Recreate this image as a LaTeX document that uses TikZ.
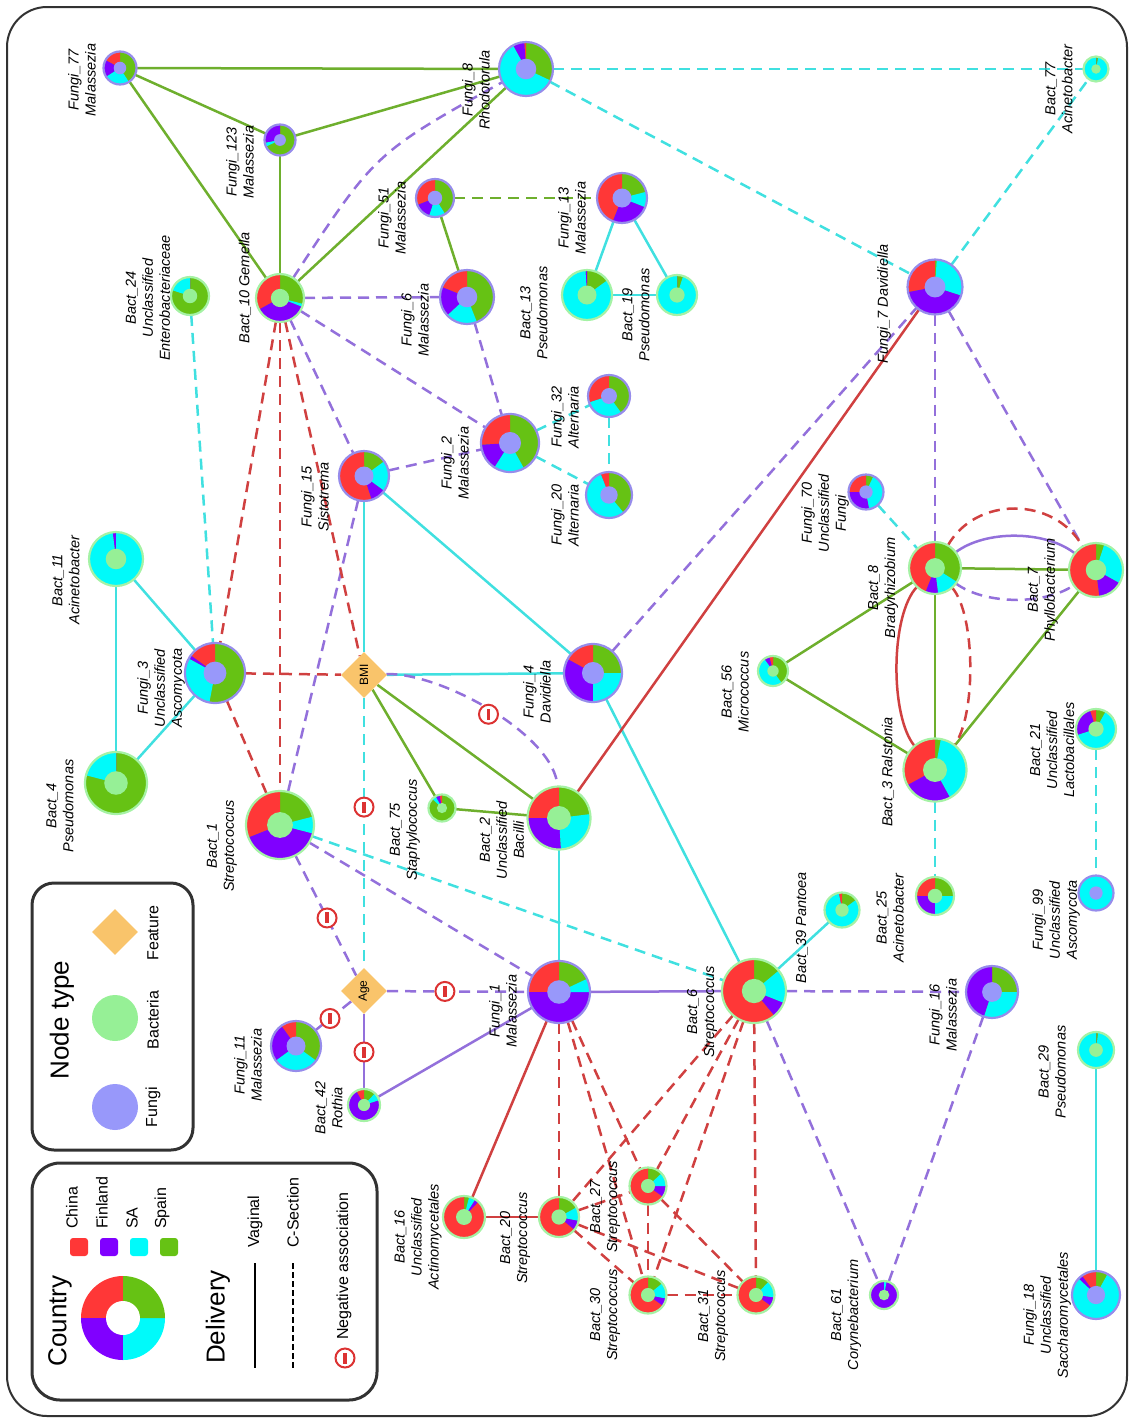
\documentclass[tikz,border=0pt]{standalone}
\usepackage{fontspec}
\setmainfont{Liberation Sans}
\usetikzlibrary{shapes.geometric}
\definecolor{pRed}{RGB}{255,55,55}
\definecolor{pPur}{RGB}{128,0,255}
\definecolor{pCya}{RGB}{0,250,250}
\definecolor{pGre}{RGB}{102,194,20}
\definecolor{fuIn}{RGB}{152,152,250}
\definecolor{fuOut}{RGB}{150,140,235}
\definecolor{baIn}{RGB}{150,240,150}
\definecolor{baOut}{RGB}{165,242,165}
\definecolor{eGre}{RGB}{110,175,45}
\definecolor{eCya}{RGB}{64,224,224}
\definecolor{eRed}{RGB}{208,64,64}
\definecolor{ePur}{RGB}{147,112,219}
\definecolor{feat}{RGB}{249,196,107}
\definecolor{negR}{RGB}{220,50,50}
\definecolor{frm}{RGB}{50,50,50}
\pgfdeclarelayer{edges}
\pgfsetlayers{edges,main}
% #1 name #2 x #3 y #4 radius #5 type (fu/ba) #6 red #7 purple #8 cyan
\newcommand\dn[8]{%
 \node[circle,minimum size=2*#4pt,inner sep=0pt,outer sep=0pt] (#1) at (#2,#3) {};
 \pgfmathsetmacro\aA{90+360*#6}%
 \pgfmathsetmacro\aB{\aA+360*#7}%
 \pgfmathsetmacro\aC{\aB+360*#8}%
 \fill[pGre] (#1.center) circle[radius=#4pt];
 \fill[pRed] (#1.center) -- ++(90:#4pt) arc[start angle=90,end angle=\aA,radius=#4pt] -- cycle;
 \fill[pPur] (#1.center) -- ++(\aA:#4pt) arc[start angle=\aA,end angle=\aB,radius=#4pt] -- cycle;
 \fill[pCya] (#1.center) -- ++(\aB:#4pt) arc[start angle=\aB,end angle=\aC,radius=#4pt] -- cycle;
 \fill[#5In] (#1.center) circle[radius=0.38*#4pt];
 \draw[#5Out,line width=2.2pt] (#1.center) circle[radius=#4pt];
}
\tikzset{
 lbl/.style={rotate=90,align=center,inner sep=0pt,font=\fontsize{14.5}{17}\selectfont\itshape},
 ed/.style={line width=2.5pt},
 dsh/.style={dash pattern=on 11pt off 7pt},
 gS/.style={ed,draw=eGre}, gD/.style={gS,dsh},
 cS/.style={ed,draw=eCya}, cD/.style={cS,dsh},
 rS/.style={ed,draw=eRed}, rD/.style={rS,dsh},
 pS/.style={ed,draw=ePur}, pD/.style={pS,dsh},
 featnode/.style={diamond,fill=feat,minimum size=46pt,inner sep=0pt,rotate=90,font=\fontsize{12}{14}\selectfont},
 negsym/.style={circle,draw=negR,fill=white,line width=2pt,minimum size=19pt,inner sep=0pt,
   path picture={\fill[negR] ([xshift=-1.7pt,yshift=-5.5pt]path picture bounding box.center) rectangle ([xshift=1.7pt,yshift=5.5pt]path picture bounding box.center);}},
 lgtitle/.style={rotate=90,inner sep=0pt,font=\fontsize{26}{30}\selectfont},
 lgtext/.style={rotate=90,inner sep=0pt,font=\fontsize{16}{19}\selectfont},
}
\begin{document}
\begin{tikzpicture}[x=1pt,y=-1pt]
\useasboundingbox (0,0) rectangle (1129,1419);
\draw[frm,line width=2pt,rounded corners=40pt] (7,7) rectangle (1127,1416);

% ---------------- nodes (donuts)
\dn{f77}{120}{68}{16.5}{fu}{.17}{.17}{.25}
\dn{f123}{280}{140}{15.5}{fu}{0}{.28}{.04}
\dn{f8}{526}{69}{27}{fu}{.01}{.07}{.60}
\dn{b77}{1096}{69}{12.5}{ba}{0}{0}{.97}
\dn{f51}{435}{198}{19}{fu}{.31}{.14}{.14}
\dn{f13}{622}{198}{25}{fu}{.44}{.25}{.10}
\dn{b13}{587}{295}{25}{ba}{0}{.01}{.84}
\dn{b19}{677}{295}{20}{ba}{0}{0}{.95}
\dn{f6}{467}{297}{27}{fu}{.19}{.18}{.19}
\dn{b24}{190}{296}{19}{ba}{0}{0}{.20}
\dn{b10}{280}{298}{24}{ba}{.33}{.36}{.02}
\dn{f7}{935}{287}{27.5}{fu}{.28}{.42}{.29}
\dn{f2}{510}{443}{29}{fu}{.26}{.15}{.17}
\dn{f32}{609}{396}{21}{fu}{.30}{0}{.30}
\dn{f20}{609}{495}{23}{fu}{.06}{0}{.55}
\dn{f15}{364}{476}{25}{fu}{.55}{.10}{.20}
\dn{b11}{116}{559}{27}{ba}{0}{.02}{.98}
\dn{f70}{866}{492}{17.5}{fu}{.25}{.28}{.40}
\dn{b8}{935}{568}{26}{ba}{.44}{.08}{.14}
\dn{b7}{1096}{570}{27}{ba}{.52}{.15}{.28}
\dn{f3}{215}{673}{30}{fu}{.15}{.02}{.30}
\dn{f4}{593}{673}{29}{fu}{.17}{.33}{.25}
\dn{b56}{773}{671}{15}{ba}{.04}{.06}{.50}
\dn{b21}{1096}{729}{20}{ba}{.05}{.25}{.62}
\dn{b4}{116}{783}{31}{ba}{0}{0}{.21}
\dn{b1}{280}{825}{34}{ba}{.31}{.40}{.08}
\dn{b75}{442}{808}{13.5}{ba}{.03}{.05}{.05}
\dn{b2}{559}{818}{31.5}{ba}{.25}{.26}{.26}
\dn{b3}{935}{770}{31.5}{ba}{.33}{.25}{.39}
\dn{b25}{935}{896}{19}{ba}{.25}{.25}{.25}
\dn{b39}{842}{910}{17.5}{ba}{.03}{0}{.82}
\dn{f99}{1096}{893}{17.5}{fu}{0}{0}{1}
\dn{f11}{296}{1046}{25}{fu}{.10}{.25}{.30}
\dn{f1}{559}{992}{31}{fu}{.25}{.50}{.07}
\dn{b6}{754}{991}{32}{ba}{.61}{.08}{.17}
\dn{f16}{992}{992}{26}{fu}{0}{.45}{.30}
\dn{b42}{364}{1105}{16}{ba}{.08}{.72}{.08}
\dn{b29}{1096}{1050}{18}{ba}{0}{0}{.98}
\dn{b16}{464}{1217}{21}{ba}{.88}{.03}{.05}
\dn{b20}{559}{1217}{20}{ba}{.64}{.08}{.11}
\dn{b27}{648}{1186}{18.5}{ba}{.65}{.10}{.12}
\dn{b30}{648}{1295}{18.5}{ba}{.65}{.07}{.14}
\dn{b31}{756}{1295}{18.5}{ba}{.65}{.08}{.15}
\dn{b61}{884}{1295}{14}{ba}{0}{.97}{.03}
\dn{f18}{1096}{1295}{24}{fu}{.10}{.03}{.79}

\node[featnode] (bmi) at (364,675) {BMI};
\node[featnode] (age) at (364,991) {Age};

% ---------------- labels
\node[lbl] (lf77) at (82,80) {Fungi\_77\\Malassezia};
\node[lbl] (lf123) at (240,162) {Fungi\_123\\Malassezia};
\node[lbl] (lf8) at (476,90) {Fungi\_8\\Rhodotorula};
\node[lbl] (lb77) at (1059,89) {Bact\_77\\Acinetobacter};
\node[lbl] (lf51) at (392,218) {Fungi\_51\\Malassezia};
\node[lbl] (lf13) at (572,218) {Fungi\_13\\Malassezia};
\node[lbl] (lf6) at (415,320) {Fungi\_6\\Malassezia};
\node[lbl] (lb13) at (534,313) {Bact\_13\\Pseudomonas};
\node[lbl] (lb19) at (636,315) {Bact\_19\\Pseudomonas};
\node[lbl] (lb24) at (148,298) {Bact\_24\\Unclassified\\Enterobacteriaceae};
\node[lbl] (lb10) at (245,288) {Bact\_10 Gemella};
\node[lbl] (lf7) at (884,304) {Fungi\_7 Davidiella};
\node[lbl] (lf2) at (455,463) {Fungi\_2\\Malassezia};
\node[lbl] (lf32) at (565,417) {Fungi\_32\\Alternaria};
\node[lbl] (lf20) at (565,515) {Fungi\_20\\Alternaria};
\node[lbl] (lf15) at (315,497) {Fungi\_15\\Sistotrema};
\node[lbl] (lb11) at (66,580) {Bact\_11\\Acinetobacter};
\node[lbl] (lf70) at (825,513) {Fungi\_70\\Unclassified\\Fungi};
\node[lbl] (lb8) at (883,588) {Bact\_8\\Bradyrhizobium};
\node[lbl] (lb7) at (1043,590) {Bact\_7\\Phyllobacterium};
\node[lbl] (lf3) at (161,688) {Fungi\_3\\Unclassified\\Ascomycota};
\node[lbl] (lf4) at (537,692) {Fungi\_4\\Davidiella};
\node[lbl] (lb56) at (735,692) {Bact\_56\\Micrococcus};
\node[lbl] (lb21) at (1052,750) {Bact\_21\\Unclassified\\Lactobacillales};
\node[lbl] (lb4) at (60,806) {Bact\_4\\Pseudomonas};
\node[lbl] (lb1) at (222,846) {Bact\_1\\Streptococcus};
\node[lbl] (lb75) at (405,830) {Bact\_75\\Staphylococcus};
\node[lbl] (lb2) at (502,840) {Bact\_2\\Unclassified\\Bacilli};
\node[lbl] (lb3) at (888,772) {Bact\_3 Ralstonia};
\node[lbl] (lb25) at (890,918) {Bact\_25\\Acinetobacter};
\node[lbl] (lb39) at (802,928) {Bact\_39 Pantoea};
\node[lbl] (lf99) at (1056,920) {Fungi\_99\\Unclassified\\Ascomycota};
\node[lbl] (lf11) at (248,1065) {Fungi\_11\\Malassezia};
\node[lbl] (lf1) at (503,1011) {Fungi\_1\\Malassezia};
\node[lbl] (lb6) at (702,1012) {Bact\_6\\Streptococcus};
\node[lbl] (lf16) at (943,1015) {Fungi\_16\\Malassezia};
\node[lbl] (lb42) at (329,1108) {Bact\_42\\Rothia};
\node[lbl] (lb29) at (1052,1072) {Bact\_29\\Pseudomonas};
\node[lbl] (lb16) at (418,1237) {Bact\_16\\Unclassified\\Actinomycetales};
\node[lbl] (lb20) at (515,1238) {Bact\_20\\Streptococcus};
\node[lbl] (lb27) at (605,1207) {Bact\_27\\Streptococcus};
\node[lbl] (lb30) at (605,1315) {Bact\_30\\Streptococcus};
\node[lbl] (lb31) at (713,1316) {Bact\_31\\Streptococcus};
\node[lbl] (lb61) at (846,1315) {Bact\_61\\Corynebacterium};
\node[lbl] (lf18) at (1047,1315) {Fungi\_18\\Unclassified\\Saccharomycetales};

% ---------------- edges
\begin{pgfonlayer}{edges}
% green
\draw[gS] (f77) -- (f8);
\draw[gS] (f77) -- (f123);
\draw[gS] (f77) -- (b10);
\draw[gS] (f123) -- (f8);
\draw[gS] (f123) -- (b10);
\draw[gS] (b10) -- (f8);
\draw[gS] (f51) -- (f6);
\draw[gS] (bmi) -- (b75);
\draw[gS] (bmi) -- (b2);
\draw[gS] (b75) -- (b2);
\draw[gS] (b56) -- (b8);
\draw[gS] (b56) -- (b3);
\draw[gS] (b8) -- (b3);
\draw[gS] (b8) -- (b7);
\draw[gS] (b3) -- (b7);
\draw[gD] (f51) -- (f13);
% cyan
\draw[cS] (f13) -- (b13);
\draw[cS] (f13) -- (b19);
\draw[cS] (b13) -- (b19);
\draw[cS] (b11) -- (f3);
\draw[cS] (b11) -- (b4);
\draw[cS] (f3) -- (b4);
\draw[cS] (f15) -- (bmi);
\draw[cS] (f15) -- (f4);
\draw[cS] (bmi) -- (f4);
\draw[cS] (f4) -- (b6);
\draw[cS] (b2) -- (f1);
\draw[cS] (b6) -- (b39);
\draw[cS] (b29) -- (f18);
\draw[cD] (f8) -- (b77);
\draw[cD] (f8) -- (f7);
\draw[cD] (f7) -- (b77);
\draw[cD] (f2) -- (f32);
\draw[cD] (f2) -- (f20);
\draw[cD] (f32) -- (f20);
\draw[cD] (b24) -- (f3);
\draw[cD] (f70) -- (b8);
\draw[cD] (bmi) -- (age);
\draw[cD] (b1) -- (b6);
\draw[cD] (b3) -- (b25);
\draw[cD] (b21) -- (f99);
% purple
\draw[pS] (f1) -- (b6);
\draw[pS] (f1) -- (b42);
\draw[pS] (age) -- (b42);
\draw[pS] (b8) .. controls (985,530) and (1045,530) .. (b7);
\draw[pD] (b10) .. controls (375,153) .. (f8);
\draw[pD] (b10) -- (f6);
\draw[pD] (b10) -- (f2);
\draw[pD] (b10) -- (f15);
\draw[pD] (f6) -- (f2);
\draw[pD] (f15) -- (f2);
\draw[pD] (f15) -- (b1);
\draw[pD] (bmi) .. controls (440,672) and (555,735) .. (b2);
\draw[pD] (f4) -- (f7);
\draw[pD] (f7) -- (b8);
\draw[pD] (f7) -- (b7);
\draw[pD] (b8) .. controls (985,605) and (1045,605) .. (b7);
\draw[pD] (b1) -- (age);
\draw[pD] (b1) -- (f1);
\draw[pD] (age) -- (f11);
\draw[pD] (age) -- (f1);
\draw[pD] (b6) -- (f16);
\draw[pD] (b6) -- (b61);
\draw[pD] (f16) -- (b61);
% red
\draw[rS] (f7) -- (b2);
\draw[rS] (f1) -- (b16);
\draw[rS] (b16) -- (b20);
\draw[rS] (b8) .. controls (890,615) and (890,717) .. (b3);
\draw[rD] (b10) -- (f3);
\draw[rD] (b10) -- (b1);
\draw[rD] (b10) -- (bmi);
\draw[rD] (f3) -- (bmi);
\draw[rD] (f3) -- (b1);
\draw[rD] (b8) .. controls (976,496) and (1054,496) .. (b7);
\draw[rD] (b8) .. controls (976,615) and (976,717) .. (b3);
\draw[rD] (f1) -- (b20);
\draw[rD] (f1) -- (b27);
\draw[rD] (f1) -- (b30);
\draw[rD] (b6) -- (b20);
\draw[rD] (b6) -- (b27);
\draw[rD] (b6) -- (b30);
\draw[rD] (b6) -- (b31);
\draw[rD] (b20) -- (b27);
\draw[rD] (b20) -- (b30);
\draw[rD] (b20) -- (b31);
\draw[rD] (b27) -- (b30);
\draw[rD] (b27) -- (b31);
\draw[rD] (b30) -- (b31);
\end{pgfonlayer}

% negative association marks
\path (bmi.center) -- (age.center) node[negsym,pos=0.418] (ng1) {};
\path (b1.center) -- (age.center) node[negsym,pos=0.56] (ng2) {};
\path (age.center) -- (f11.center) node[negsym,pos=0.5] (ng3) {};
\path (age.center) -- (f1.center) node[negsym,pos=0.415] (ng4) {};
\path (age.center) -- (b42.center) node[negsym,pos=0.535] (ng5) {};
\path (bmi.center) .. controls (440,672) and (555,735) .. (b2.center) node[negsym,pos=0.5] (ng6) {};

% ---------------- legend: node type
\draw[frm,line width=3pt,rounded corners=22pt] (32,883) rectangle (193,1150);
\node[lgtitle] (ntT) at (62,1020) {Node type};
\node[diamond,fill=feat,minimum size=46pt,inner sep=0pt] (lgFeat) at (115,932) {};
\node[lgtext] (lgFeatT) at (153,933) {Feature};
\node[circle,fill=baIn,minimum size=46pt,inner sep=0pt] (lgBac) at (115,1018) {};
\node[lgtext] (lgBacT) at (153,1020) {Bacteria};
\node[circle,fill=fuIn,minimum size=46pt,inner sep=0pt] (lgFun) at (115,1107) {};
\node[lgtext] (lgFunT) at (153,1107) {Fungi};

% ---------------- legend: country / delivery
\draw[frm,line width=3pt,rounded corners=28pt] (32,1163) rectangle (377,1400);
\node[lgtitle] (cT) at (60,1321) {Country};
\coordinate (lgD) at (123,1318);
\fill[pRed] (lgD) -- ++(90:42pt) arc[start angle=90,end angle=180,radius=42pt] -- cycle;
\fill[pPur] (lgD) -- ++(180:42pt) arc[start angle=180,end angle=270,radius=42pt] -- cycle;
\fill[pCya] (lgD) -- ++(270:42pt) arc[start angle=270,end angle=360,radius=42pt] -- cycle;
\fill[pGre] (lgD) -- ++(0:42pt) arc[start angle=0,end angle=90,radius=42pt] -- cycle;
\fill[white] (lgD) circle[radius=17pt];
\node[fill=pRed,minimum size=18pt,inner sep=0pt,rounded corners=3pt] (sqC) at (79,1247) {};
\node[fill=pPur,minimum size=18pt,inner sep=0pt,rounded corners=3pt] (sqF) at (109,1247) {};
\node[fill=pCya,minimum size=18pt,inner sep=0pt,rounded corners=3pt] (sqS) at (139,1247) {};
\node[fill=pGre,minimum size=18pt,inner sep=0pt,rounded corners=3pt] (sqE) at (169,1247) {};
\node[lgtext,anchor=west] (tC) at (72,1229) {China};
\node[lgtext,anchor=west] (tF) at (102,1229) {Finland};
\node[lgtext,anchor=west] (tS) at (132,1229) {SA};
\node[lgtext,anchor=west] (tE) at (162,1229) {Spain};
\node[lgtitle] (dT) at (218,1317) {Delivery};
\coordinate (vA) at (255,1263);
\coordinate (vB) at (255,1368);
\coordinate (csA) at (293,1263);
\coordinate (csB) at (293,1368);
\draw[black,line width=2pt] (vA) -- (vB);
\draw[black,line width=2pt,dash pattern=on 6pt off 3pt] (csA) -- (csB);
\node[lgtext,anchor=west] (tV) at (255,1248) {Vaginal};
\node[lgtext,anchor=west] (tCS) at (293,1248) {C-Section};
\node[negsym] (lgNeg) at (345,1358) {};
\node[lgtext,anchor=west] (tN) at (344,1340) {Negative association};
\end{tikzpicture}
\end{document}
